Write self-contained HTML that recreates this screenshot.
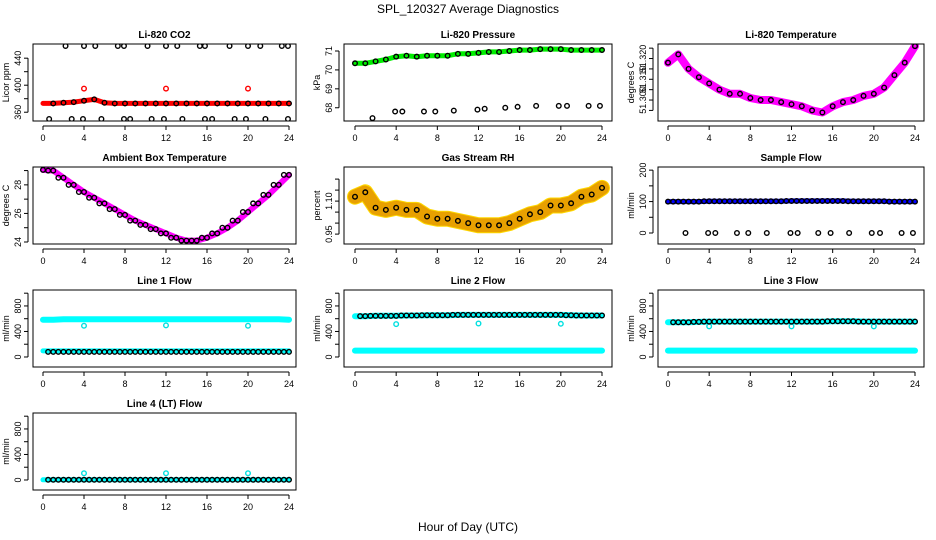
<!DOCTYPE html>
<html><head><meta charset="utf-8">
<style>
html,body{margin:0;padding:0;background:#fff;}
svg{display:block;font-family:"Liberation Sans",sans-serif;}
</style></head>
<body>
<svg id="chart" width="936" height="540" viewBox="0 0 936 540" xmlns="http://www.w3.org/2000/svg">
<text x="468" y="13" text-anchor="middle" font-size="12">SPL_120327  Average Diagnostics</text>
<text x="468" y="531" text-anchor="middle" font-size="12">Hour of Day (UTC)</text>
</svg>
<script>
// ---- data ----
const hours = [0,1,2,3,4,5,6,7,8,9,10,11,12,13,14,15,16,17,18,19,20,21,22,23,24];
const co2Band = [373,373,374,375,377,379,374,373,373,373,373,373,373,373,373,373,373,373,373,373,373,373,373,373,373];
const co2Outlier = [395,395,395];
const outlierHours = [4,12,20];
const co2HighHours = [2.2,4,5.1,7.3,7.9,10.2,12,13.1,15.3,15.8,18.2,20,21.2,23.3,23.9];
const co2HighVal = [458,458,458,458,458,458,458,458,458,458,458,458,458,458,458];
const co2LowHours = [0.6,2.8,3.9,5.7,7.9,8.5,10.6,11.8,13.6,15.8,16.5,18.7,19.8,21.7,23.9];
const co2LowVal = [350,350,350,350,350,350,350,350,350,350,350,350,350,350,350];
const presBand = [70.35,70.35,70.45,70.55,70.7,70.75,70.7,70.75,70.75,70.75,70.85,70.85,70.9,70.95,70.95,71.0,71.05,71.05,71.1,71.1,71.1,71.05,71.05,71.05,71.05];
const presLowHours = [1.7,3.9,4.6,6.7,7.8,9.6,11.9,12.6,14.6,15.8,17.6,19.8,20.6,22.7,23.8];
const presLowVal = [67.45,67.8,67.8,67.8,67.8,67.85,67.9,67.95,68.0,68.05,68.1,68.1,68.1,68.1,68.1];
const liTemp = [51.318,51.322,51.315,51.311,51.308,51.305,51.303,51.303,51.301,51.300,51.300,51.299,51.298,51.297,51.295,51.294,51.297,51.299,51.300,51.302,51.303,51.306,51.312,51.318,51.326];
const ambTemp = [29.05,29.0,28.5,28.0,27.5,27.1,26.7,26.3,25.9,25.5,25.2,24.9,24.6,24.3,24.1,24.1,24.3,24.6,25.0,25.5,26.1,26.7,27.3,28.0,28.7];
const rhBand = [1.12,1.14,1.07,1.06,1.07,1.06,1.06,1.03,1.02,1.02,1.01,1.0,0.99,0.99,0.99,1.0,1.02,1.04,1.05,1.08,1.08,1.09,1.12,1.13,1.16];
const sampleFlow = [100,100,100,100,101,101,101,101,101,101,101,101,102,102,102,102,102,102,101,101,101,101,100,100,100];
const sampleZeroHours = [1.7,3.9,4.6,6.7,7.8,9.6,11.9,12.6,14.6,15.8,17.6,19.8,20.6,22.7,23.8];
const sampleZeroVal = [0,0,0,0,0,0,0,0,0,0,0,0,0,0,0];
const line1High = [585,585,590,590,590,590,590,590,590,590,590,590,590,590,590,590,590,590,590,590,590,590,590,590,585];
const line1Low = [95,95,95,95,95,95,95,95,95,95,95,95,95,95,95,95,95,95,95,95,95,95,95,95,95];
const line1Black = [80,80,80,80,80,80,80,80,80,80,80,80,80,80,80,80,80,80,80,80,80,80,80,80,80];
const line1Out = [490,495,490];
const line2High = [640,640,645,645,645,650,650,655,655,655,660,660,660,660,660,660,660,660,660,660,660,655,650,650,650];
const line2Low = [100,100,100,100,100,100,100,100,100,100,100,100,100,100,100,100,100,100,100,100,100,100,100,100,100];
const line2Out = [515,525,520];
const line3High = [545,545,545,550,555,555,555,555,555,555,555,555,555,555,555,555,560,560,560,555,555,555,555,555,555];
const line3Low = [100,100,100,100,100,100,100,100,100,100,100,100,100,100,100,100,100,100,100,100,100,100,100,100,100];
const line3Out = [480,480,480];
const line4Black = [3,3,3,3,3,3,3,3,3,3,3,3,3,3,3,3,3,3,3,3,3,3,3,3,3];
const line4Out = [105,105,105];
const xTicks = [0,4,8,12,16,20,24];

// ---- layout ----
const svg = document.getElementById('chart');
const NS = 'http://www.w3.org/2000/svg';
const cols = [{l:33,r:296,x0:43,x24:289},{l:344,r:612,x0:355,x24:602},{l:658,r:924,x0:668,x24:915}];
const rows = [44,167,290,413];
const H = 77;
function mk(tag, attrs, parent){
  const e = document.createElementNS(NS, tag);
  for (const k in attrs) e.setAttribute(k, attrs[k]);
  (parent||svg).appendChild(e);
  return e;
}
function panel(name, title, ylab, col, row, ymin, ymax, yticks, ylabels){
  const c = cols[col], top = rows[row], bot = top + H;
  const g = mk('g', {});
  
  
  const xs = h => c.x0 + h*(c.x24-c.x0)/24;
  const ys = v => bot - (v-ymin)/(ymax-ymin)*H;
  const clipId = 'clip-' + name;
  const cp = mk('clipPath', {id: clipId}, g);
  mk('rect', {x:c.l, y:top, width:c.r-c.l, height:H}, cp);
  const t = mk('text', {x:(c.l+c.r)/2, y:top-6, 'text-anchor':'middle', 'font-size':'10', 'font-weight':'bold'}, g);
  t.textContent = title;
  
  
  const yl = mk('text', {x:0, y:0, 'text-anchor':'middle', 'font-size':'9', transform:`translate(${c.l-24},${top+H/2}) rotate(-90)`}, g);
  yl.textContent = ylab;
  
  
  const xa = mk('g', {}, g);
  
  
  mk('line', {x1:xs(0), x2:xs(24), y1:bot+5, y2:bot+5, stroke:'#000'}, xa);
  xTicks.forEach(v=>{
    mk('line', {x1:xs(v), x2:xs(v), y1:bot+5, y2:bot+9, stroke:'#000'}, xa);
    const tt = mk('text', {x:xs(v), y:bot+20, 'text-anchor':'middle', 'font-size':'9'}, xa);
    tt.textContent = v;
  });
  const ya = mk('g', {}, g);
  
  
  mk('line', {x1:c.l-5, x2:c.l-5, y1:ys(yticks[0]), y2:ys(yticks[yticks.length-1]), stroke:'#000'}, ya);
  yticks.forEach((v,i)=>{
    mk('line', {x1:c.l-9, x2:c.l-5, y1:ys(v), y2:ys(v), stroke:'#000'}, ya);
    if (ylabels[i] !== '') {
      const tt = mk('text', {x:0, y:0, 'text-anchor':'middle', 'font-size':'9', transform:`translate(${c.l-12},${ys(v)}) rotate(-90)`}, ya);
      tt.textContent = ylabels[i];
    }
  });
  const plot = mk('g', {'clip-path':`url(#${clipId})`}, g);
  mk('rect', {x:c.l, y:top, width:c.r-c.l, height:H, fill:'none', stroke:'#000'}, g);
  return {g, plot, xs, ys};
}
function band(p, name, xsArr, vals, color, w, dash){
  const pts = xsArr.map((h,i)=>p.xs(h).toFixed(1)+','+p.ys(vals[i]).toFixed(1)).join(' ');
  const a = {points:pts, fill:'none', stroke:color, 'stroke-width':w, 'stroke-linecap':'round', 'stroke-linejoin':'round'};
  if (dash) a['stroke-dasharray'] = dash;
  const e = mk('polyline', a, p.plot);
  
  
}
function circles(p, name, xsArr, vals, color){
  const gg = mk('g', {}, p.plot);
  
  
  xsArr.forEach((h,i)=>{
    mk('circle', {cx:p.xs(h), cy:p.ys(vals[i]), r:2.3, fill:'none', stroke:color, 'stroke-width':1.4}, gg);
  });
}
function halfStep(arr){
  const hx=[], hv=[];
  for(let i=0;i<arr.length;i++){ if(hours[i]>0){ hx.push(hours[i]-0.5); hv.push(arr[i]); } hx.push(hours[i]); hv.push(arr[i]); }
  return [hx,hv];
}

let p = panel('co2','Li-820 CO2','Licor ppm',0,0,347,461,[360,380,400,420,440],['360','','400','','440']);
band(p,'co2-band',hours,co2Band,'#ff0000',5);
circles(p,'co2-outliers',outlierHours,co2Outlier,'#ff0000');
circles(p,'co2-black-band',hours.slice(1),co2Band.slice(1),'#000');
circles(p,'co2-high',co2HighHours,co2HighVal,'#000');
circles(p,'co2-low',co2LowHours,co2LowVal,'#000');

p = panel('pressure','Li-820 Pressure','kPa',1,0,67.3,71.37,[68,69,70,71],['68','69','70','71']);
band(p,'pressure-band',hours,presBand,'#00ee00',5);
circles(p,'pressure-black',hours,presBand,'#000');
circles(p,'pressure-low',presLowHours,presLowVal,'#000');

p = panel('li-temp','Li-820 Temperature','degrees C',2,0,51.2899,51.327,[51.295,51.300,51.305,51.310,51.315,51.320,51.325],['','51.300','','51.310','','51.320','']);
band(p,'li-temp-band',hours,liTemp,'#ff00ff',8);
circles(p,'li-temp-black',hours,liTemp,'#000');

p = panel('ambient','Ambient Box Temperature','degrees C',0,1,23.86,29.25,[24,25,26,27,28,29],['24','','26','','28','']);
band(p,'ambient-band',hours,ambTemp,'#ff00ff',6);
let hs = halfStep(ambTemp);
circles(p,'ambient-black',hs[0],hs[1],'#000');

p = panel('rh','Gas Stream RH','percent',1,1,0.905,1.255,[0.95,1.0,1.05,1.10,1.15,1.2],['0.95','','','1.10','','']);
band(p,'rh-band',hours,rhBand,'#ffd800',16);
band(p,'rh-band-speckle',hours,rhBand,'#e8a000',14,'1.5 1.5');
circles(p,'rh-black',hours,rhBand,'#000');

p = panel('sample-flow','Sample Flow','ml/min',2,1,-35,210,[0,50,100,150,200],['0','','100','','200']);
band(p,'sample-flow-band',hours,sampleFlow,'#0000ff',5);
hs = halfStep(sampleFlow);
circles(p,'sample-flow-black',hs[0],hs[1],'#000');
circles(p,'sample-flow-zero',sampleZeroHours,sampleZeroVal,'#000');

const flowTicks=[0,200,400,600,800,1000], flowLabels=['0','','400','','800',''];
p = panel('line1','Line 1 Flow','ml/min',0,2,-157,1050,flowTicks,flowLabels);
band(p,'line1-high-band',hours,line1High,'#00ffff',6);
band(p,'line1-low-band',hours,line1Low,'#00ffff',5);
circles(p,'line1-outliers',outlierHours,line1Out,'#00e0e0');
hs = halfStep(line1Black);
circles(p,'line1-black',hs[0].slice(1),hs[1].slice(1),'#000');

p = panel('line2','Line 2 Flow','ml/min',1,2,-157,1050,flowTicks,flowLabels);
band(p,'line2-high-band',hours,line2High,'#00ffff',6);
band(p,'line2-low-band',hours,line2Low,'#00ffff',6);
circles(p,'line2-outliers',outlierHours,line2Out,'#00e0e0');
hs = halfStep(line2High);
circles(p,'line2-black',hs[0].slice(1),hs[1].slice(1),'#000');

p = panel('line3','Line 3 Flow','ml/min',2,2,-157,1050,flowTicks,flowLabels);
band(p,'line3-high-band',hours,line3High,'#00ffff',6);
band(p,'line3-low-band',hours,line3Low,'#00ffff',6);
circles(p,'line3-outliers',outlierHours,line3Out,'#00e0e0');
hs = halfStep(line3High);
circles(p,'line3-black',hs[0].slice(1),hs[1].slice(1),'#000');

p = panel('line4','Line 4 (LT) Flow','ml/min',0,3,-157,1050,flowTicks,flowLabels);
band(p,'line4-band',hours,line4Black,'#00ffff',5);
circles(p,'line4-outliers',outlierHours,line4Out,'#00e0e0');
hs = halfStep(line4Black);
circles(p,'line4-black',hs[0].slice(1),hs[1].slice(1),'#000');
</script>
</body></html>
